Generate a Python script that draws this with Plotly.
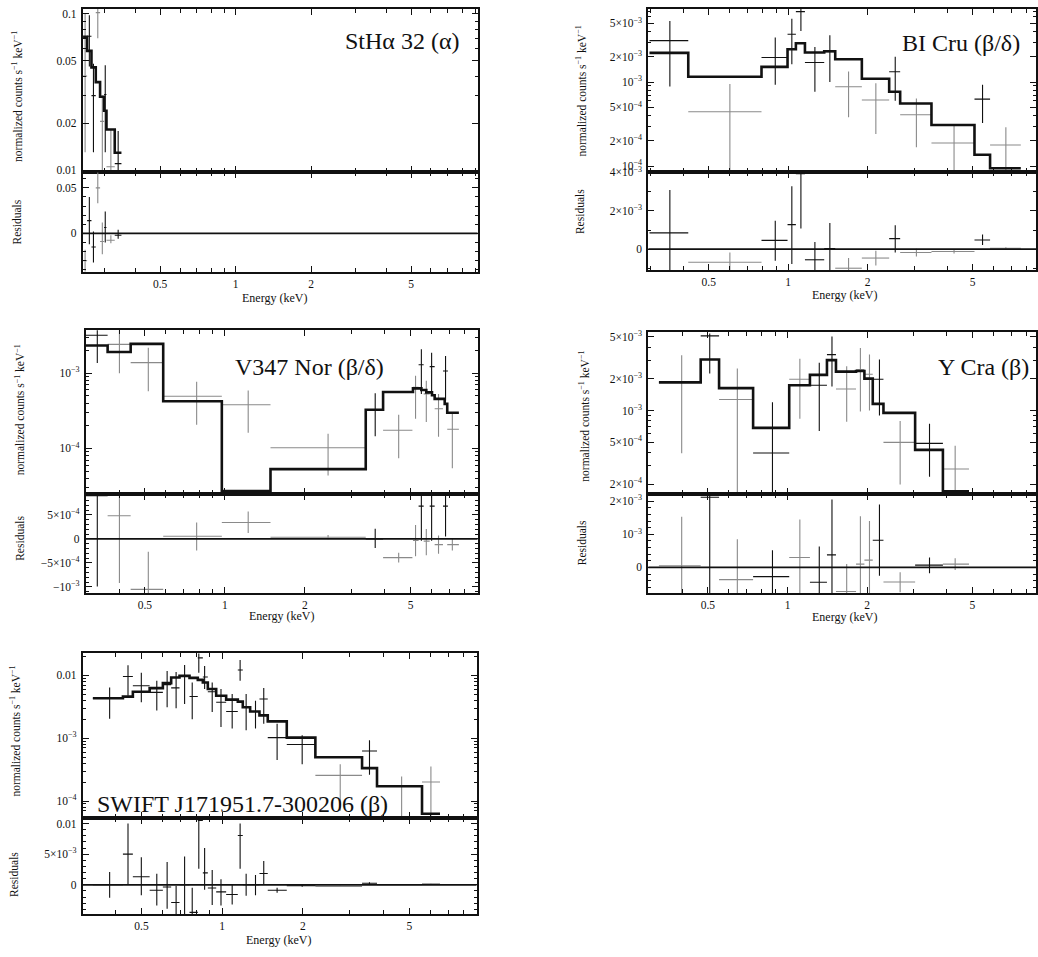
import plotly.graph_objects as go

W, H = 1038, 957
INK = "#111111"
GREY = "#8a8a8a"
SERIF = "Liberation Serif, Times New Roman, DejaVu Serif, serif"

# ===================== DATA =====================
# ---- Panel 1: StHa 32 (alpha) ----
p1_model_edges = [0.2464, 0.2557, 0.2661, 0.2768, 0.2880, 0.2988, 0.3054, 0.3295, 0.3504]
p1_model_vals = [0.0715, 0.058, 0.0455, 0.0366, 0.0295, 0.024, 0.0182, 0.0129]
p1_e = [0.251, 0.261, 0.271, 0.282, 0.294, 0.302, 0.318, 0.340]
p1_elo = [0.2464, 0.2557, 0.2661, 0.2768, 0.2880, 0.2988, 0.3054, 0.3295]
p1_ehi = [0.2557, 0.2661, 0.2768, 0.2880, 0.2988, 0.3054, 0.3295, 0.3504]
p1_f = [0.04, 0.072, 0.030, 0.102, 0.0205, 0.0305, 0.0105, 0.011]
p1_flo = [0.013, 0.046, 0.013, 0.07, 0.0099, 0.013, 0.0095, 0.0095]
p1_fhi = [0.1, 0.098, 0.048, 0.11, 0.030, 0.047, 0.0182, 0.0178]
p1_r = [-0.03, 0.014, -0.015, 0.05, -0.009, 0.0065, -0.0076, -0.002]
p1_rlo = [-0.042, -0.012, -0.032, 0.033, -0.023, -0.010, -0.011, -0.006]
p1_rhi = [-0.018, 0.040, 0.002, 0.067, 0.012, 0.024, -0.002, 0.004]
p1_grey = [1, 0, 0, 1, 1, 0, 1, 0]

# ---- Panel 2: BI Cru (beta/delta) ----
p2_model_edges = [0.298, 0.418, 0.792, 0.994, 1.069, 1.157, 1.369, 1.507, 1.901,
                  2.413, 2.656, 3.49, 5.08, 5.82, 7.61]
p2_model_vals = [2.23e-3, 1.157e-3, 1.52e-3, 2.46e-3, 2.90e-3, 2.25e-3, 2.33e-3,
                 1.87e-3, 1.095e-3, 7.68e-4, 5.58e-4, 3.09e-4, 1.37e-4, 9.46e-5]
p2_e = [0.356, 0.601, 0.893, 1.032, 1.117, 1.262, 1.438, 1.693, 2.148, 2.544, 3.06, 4.25, 5.45, 6.68]
p2_elo = p2_model_edges[:-1]
p2_ehi = p2_model_edges[1:]
p2_f = [3.12e-3, 4.44e-4, 1.96e-3, 3.71e-3, 6.9e-3, 1.71e-3, 2.3e-3, 8.8e-4, 6.12e-4,
        1.33e-3, 4.1e-4, 1.89e-4, 6.28e-4, 1.79e-4]
p2_flo = [8.9e-4, 5e-5, 9.3e-4, 1.63e-3, 4.06e-3, 7.7e-4, 1.0e-3, 3.81e-4, 2.41e-4,
          6.0e-4, 1.68e-4, 5e-5, 3.27e-4, 5e-5]
p2_fhi = [5.33e-3, 9.47e-4, 3.39e-3, 5.69e-3, 7.5e-3, 2.62e-3, 3.6e-3, 1.34e-3, 9.7e-4,
          2.01e-3, 6.4e-4, 3.03e-4, 9.3e-4, 2.9e-4]
p2_r = [8.5e-4, -6.8e-4, 4.6e-4, 1.28e-3, 3.93e-3, -5.5e-4, 3e-5, -9.9e-4, -4.6e-4,
        5.5e-4, -1.7e-4, -1.2e-4, 4.8e-4, 5e-5]
p2_rlo = [-1.5e-3, -1.5e-3, -6.0e-4, -7.7e-4, 1.08e-3, -1.5e-3, -1.5e-3, -1.5e-3, -8.5e-4,
          -1.7e-4, -3.8e-4, -2.2e-4, 2.2e-4, 0.0]
p2_rhi = [3.08e-3, -1.7e-4, 1.49e-3, 3.28e-3, 4.5e-3, 3.8e-4, 1.37e-3, -4.6e-4, -8.5e-5,
          1.25e-3, 3e-5, -2e-5, 7.7e-4, 1e-4]
p2_grey = [0, 1, 0, 0, 0, 0, 0, 1, 1, 0, 1, 1, 0, 1]

# ---- Panel 3: V347 Nor (beta/delta) ----
p3_model_edges = [0.300, 0.362, 0.442, 0.586, 0.974, 1.485, 3.39, 3.94, 5.105, 5.49,
                  5.73, 6.02, 6.16, 6.72, 6.87, 7.60]
p3_model_vals = [2.33e-3, 1.91e-3, 2.45e-3, 4.24e-4, 2.72e-5, 5.3e-5, 3.26e-4, 5.62e-4,
                 6.28e-4, 5.97e-4, 5.55e-4, 5.08e-4, 4.55e-4, 3.91e-4, 2.98e-4]
p3_e = [0.331, 0.401, 0.515, 0.783, 1.224, 2.446, 3.68, 4.51, 5.22, 5.49, 5.73, 6.0, 6.37, 6.77, 7.18]
p3_elo = [0.300, 0.362, 0.442, 0.586, 0.974, 1.485, 3.39, 3.94, 5.105, 5.36, 5.60, 5.90, 6.16, 6.62, 6.87]
p3_ehi = [0.362, 0.442, 0.586, 0.974, 1.485, 3.39, 3.94, 5.08, 5.36, 5.60, 5.90, 6.16, 6.62, 6.91, 7.60]
p3_f = [3.19e-3, 2.41e-3, 1.38e-3, 4.93e-4, 3.8e-4, 1.02e-4, 3.26e-4, 1.74e-4, 6.47e-4,
        1.29e-3, 5.3e-4, 1.22e-3, 3.36e-4, 1.07e-3, 1.8e-4]
p3_flo = [1.36e-3, 1.0e-3, 5.74e-4, 2.07e-4, 1.61e-4, 4.36e-5, 1.45e-4, 7.4e-5, 2.48e-4,
          5.3e-4, 2.24e-4, 5.3e-4, 1.43e-4, 4.32e-4, 5.46e-5]
p3_fhi = [3.8e-3, 3.8e-3, 2.18e-3, 7.7e-4, 5.86e-4, 1.57e-4, 5.4e-4, 2.8e-4, 9.2e-4,
          2.07e-3, 7.9e-4, 1.87e-3, 5.3e-4, 1.69e-3, 2.88e-4]
p3_r = [9.0e-4, 4.8e-4, -1.05e-3, 5.5e-5, 3.4e-4, 3.4e-5, 0.0, -3.9e-4, -3.4e-5,
        6.8e-4, -4.8e-5, 6.8e-4, -1.2e-4, 6.8e-4, -1.2e-4]
p3_rlo = [-9.9e-4, -9.2e-4, -1.2e-3, -2.4e-4, 1.2e-4, -1e-5, -1.9e-4, -4.9e-4, -3.6e-4,
          -4e-5, -3.4e-4, -4e-5, -3.1e-4, 5e-5, -2.4e-4]
p3_rhi = [1.0e-3, 8.9e-4, -2.7e-4, 3.4e-4, 5.7e-4, 8e-5, 2.1e-4, -2.9e-4, 2.9e-4,
          1.0e-3, 2.05e-4, 1.0e-3, 7e-5, 1.0e-3, 0.0]
p3_grey = [0, 1, 1, 1, 1, 1, 0, 1, 1, 0, 1, 0, 1, 0, 1]

# ---- Panel 4: Y Cra (beta) ----
p4_model_edges = [0.3265, 0.4696, 0.551, 0.741, 1.0146, 1.215, 1.409, 1.524, 1.815,
                  1.952, 2.099, 2.304, 3.035, 3.865, 4.85]
p4_model_vals = [1.85e-3, 3.05e-3, 1.63e-3, 6.83e-4, 1.74e-3, 2.18e-3, 3.01e-3, 2.34e-3,
                 2.37e-3, 2.01e-3, 1.155e-3, 9.5e-4, 4.22e-4, 1.71e-4]
p4_e = [0.398, 0.508, 0.646, 0.877, 1.113, 1.318, 1.472, 1.673, 1.885, 2.04, 2.225, 2.664, 3.44, 4.3]
p4_elo = p4_model_edges[:-1]
p4_ehi = p4_model_edges[1:]
p4_f = [1.85e-3, 5.12e-3, 1.27e-3, 3.95e-4, 1.98e-3, 1.74e-3, 3.4e-3, 1.6e-3, 2.45e-3,
        2.21e-3, 1.98e-3, 4.98e-4, 4.87e-4, 2.78e-4]
p4_flo = [3.92e-4, 2.25e-3, 1e-4, 1e-4, 8.35e-4, 6.4e-4, 1.69e-3, 7.8e-4, 9.8e-4,
          1e-3, 8.97e-4, 1.98e-4, 2.34e-4, 1e-4]
p4_fhi = [3.35e-3, 5.4e-3, 2.51e-3, 1.2e-3, 3.1e-3, 2.84e-3, 5.05e-3, 2.64e-3, 3.92e-3,
          3.4e-3, 3.05e-3, 7.94e-4, 7.5e-4, 4.63e-4]
p4_r = [5e-5, 2.12e-3, -3.7e-4, -2.8e-4, 3e-4, -4.5e-4, 3.8e-4, -7.3e-4, 1e-4,
        2.2e-4, 8.2e-4, -4.4e-4, 7e-5, 1e-4]
p4_rlo = [-1e-3, -1e-3, -1e-3, -1e-3, -1e-3, -1e-3, -1e-3, -1e-3, -1e-3,
          -1e-3, -2.5e-4, -7.5e-4, -1.8e-4, -8e-5]
p4_rhi = [1.53e-3, 2.3e-3, 8.5e-4, 5.2e-4, 1.45e-3, 6.3e-4, 2.05e-3, 1e-4, 1.55e-3,
          1.4e-3, 1.9e-3, -1.5e-4, 3e-4, 2.8e-4]
p4_grey = [1, 0, 1, 0, 1, 0, 0, 1, 1, 1, 0, 1, 0, 1]

# ---- Panel 5: SWIFT J171951.7-300206 (beta) ----
p5_model_edges = [0.329, 0.426, 0.464, 0.536, 0.6006, 0.645, 0.693, 0.7552, 0.811, 0.847,
                  0.884, 0.950, 1.035, 1.144, 1.194, 1.272, 1.378, 1.480, 1.743, 2.229,
                  3.33, 3.787, 5.577, 6.51]
p5_model_vals = [4.3e-3, 4.57e-3, 5.47e-3, 6.25e-3, 7.49e-3, 9.19e-3, 9.76e-3, 9.08e-3,
                 8.45e-3, 7.67e-3, 6.03e-3, 4.73e-3, 4.1e-3, 3.81e-3, 3.1e-3, 2.65e-3,
                 2.3e-3, 1.85e-3, 1.02e-3, 4.97e-4, 3.34e-4, 1.72e-4, 6.3e-5]
p5_e = [0.380, 0.445, 0.499, 0.57, 0.623, 0.673, 0.724, 0.773, 0.818, 0.86, 0.918, 0.99,
        1.09, 1.167, 1.229, 1.332, 1.43, 1.604, 1.99, 2.76, 3.55, 4.68, 6.02]
p5_elo = p5_model_edges[:-1]
p5_ehi = p5_model_edges[1:]
p5_f = [4.3e-3, 9.53e-3, 6.8e-3, 5.35e-3, 7.1e-3, 6.3e-3, 9.76e-3, 4.6e-3, 0.0189, 9.4e-3,
        5.47e-3, 3.72e-3, 2.65e-3, 0.01213, 3.1e-3, 2.65e-3, 4.2e-3, 1.02e-3, 7.94e-4,
        2.56e-4, 6.25e-4, 1.72e-4, 2.01e-4]
p5_flo = [2.04e-3, 4.73e-3, 3.72e-3, 2.75e-3, 3.1e-3, 3.0e-3, 3.5e-3, 1.99e-3, 0.011, 6.03e-3,
          2.6e-3, 1.51e-3, 1.42e-3, 8.15e-3, 1.34e-3, 1.42e-3, 1.7e-3, 4.5e-4, 3.86e-4,
          7e-5, 2.62e-4, 5e-5, 5e-5]
p5_fhi = [6.4e-3, 0.01436, 0.011, 8.15e-3, 0.0117, 0.0113, 0.0146, 7.67e-3, 0.023, 0.014,
          7.67e-3, 6.03e-3, 5.04e-3, 0.0174, 5.04e-3, 3.95e-3, 6.25e-3, 1.7e-3, 1.11e-3,
          3.86e-4, 9.3e-4, 2.47e-4, 3.55e-4]
p5_r = [0.0, 5e-3, 1.32e-3, -8.9e-4, -3.7e-4, -2.9e-3, 0.0, -4.5e-3, 0.0105, 1.95e-3,
        -5.3e-4, -1.16e-3, -1.58e-3, 8.05e-3, 0.0, 0.0, 1.84e-3, -8.9e-4, -1.6e-4,
        -2.6e-4, 2.6e-4, 0.0, 1.6e-4]
p5_rlo = [-2.1e-3, 0.0, -1.7e-3, -3.4e-3, -3.9e-3, -6e-3, -6e-3, -6e-3, 2.6e-3, -8e-4,
          -3.3e-3, -3.4e-3, -3.2e-3, 2.6e-3, -1.8e-3, -1.7e-3, 0.0, -1.3e-3, -3e-4,
          -3.5e-4, 1e-4, -5e-5, 1e-4]
p5_rhi = [2.1e-3, 0.01, 4.5e-3, 1.8e-3, 3.7e-3, -1.6e-4, 4.6e-3, -5e-4, 0.012, 6e-3,
          2.4e-3, 9e-4, 0.0, 0.01, 1.8e-3, 1.6e-3, 3.9e-3, -5e-4, 0.0,
          -1.5e-4, 4e-4, 5e-5, 2e-4]
p5_grey = [0] * 19 + [1, 0, 1, 1]

# ---- titles & tick labels ----
titles = ["StHα 32 (α)", "BI Cru (β/δ)", "V347 Nor (β/δ)", "Y Cra (β)",
          "SWIFT J171951.7-300206 (β)"]
x_tick_vals = [0.5, 1, 2, 5]
x_tick_text = ["0.5", "1", "2", "5"]
x_minor_vals = [0.3, 0.4, 0.6, 0.7, 0.8, 0.9, 3, 4, 6, 7, 8, 9]


def sci(m, k):
    s = "10<sup>−%d</sup>" % k
    return s if m == 1 else "%d×%s" % (m, s)


top_ticks = [
    ([0.01, 0.02, 0.05, 0.1], ["0.01", "0.02", "0.05", "0.1"],
     [0.03, 0.04, 0.06, 0.07, 0.08, 0.09]),
    ([1e-4, 2e-4, 5e-4, 1e-3, 2e-3, 5e-3],
     [sci(1, 4), sci(2, 4), sci(5, 4), sci(1, 3), sci(2, 3), sci(5, 3)],
     [3e-4, 4e-4, 6e-4, 7e-4, 8e-4, 9e-4, 3e-3, 4e-3, 6e-3, 7e-3]),
    ([1e-4, 1e-3], [sci(1, 4), sci(1, 3)],
     [3e-5, 4e-5, 5e-5, 6e-5, 7e-5, 8e-5, 9e-5, 2e-4, 3e-4, 4e-4, 5e-4, 6e-4, 7e-4,
      8e-4, 9e-4, 2e-3, 3e-3]),
    ([2e-4, 5e-4, 1e-3, 2e-3, 5e-3], [sci(2, 4), sci(5, 4), sci(1, 3), sci(2, 3), sci(5, 3)],
     [3e-4, 4e-4, 6e-4, 7e-4, 8e-4, 9e-4, 3e-3, 4e-3]),
    ([1e-4, 1e-3, 1e-2], [sci(1, 4), sci(1, 3), "0.01"],
     [7e-5, 8e-5, 9e-5, 2e-4, 3e-4, 4e-4, 5e-4, 6e-4, 7e-4, 8e-4, 9e-4,
      2e-3, 3e-3, 4e-3, 5e-3, 6e-3, 7e-3, 8e-3, 9e-3, 0.02]),
]
res_ticks = [
    ([0, 0.05], ["0", "0.05"], 0.01),
    ([0, 2e-3, 4e-3], ["0", sci(2, 3), sci(4, 3)], 1e-3),
    ([-1e-3, -5e-4, 0, 5e-4], ["−10<sup>−3</sup>", "−" + sci(5, 4), "0", sci(5, 4)], 1e-4),
    ([0, 1e-3, 2e-3], ["0", sci(1, 3), sci(2, 3)], 2e-4),
    ([0, 5e-3, 0.01], ["0", sci(5, 3), "0.01"], 1e-3),
]

# ===================== LAYOUT GEOMETRY (pixels) =====================
frames = [  # x0, x1, top_y0, split_y, bottom_y1
    (83, 478, 2, 167, 268),
    (649, 1037, 2, 167, 266),
    (86, 478, 327, 493, 593),
    (649, 1037, 329, 493, 593),
    (83, 477, 654, 820, 918),
]
x_ranges = [(-0.609, 0.964), (-0.530, 0.939), (-0.523, 0.951), (-0.526, 0.939), (-0.520, 0.950)]
top_ranges = [(-2.013, -0.968), (-4.07, -2.13), (-4.61, -2.43), (-3.797, -2.256), (-4.262, -1.654)]
res_ranges = [(-0.0424, 0.0674), (-1.08e-3, 4.02e-3), (-1.13e-3, 9.26e-4),
              (-0.78e-3, 2.21e-3), (-4.84e-3, 0.01097)]
title_pos = [(461, 34, "right"), (1023, 36, "right"), (233, 364, "left"),
             (1032, 364, "right"), (95, 806, "left")]
ytitle_pos = [(17, 90, 17, 217), (582, 85, 580, 207), (20, 407, 20, 537),
              (585, 414, 582, 542), (15, 732, 14, 877)]
etitle_pos = [(275, 294), (845, 291), (282, 616), (845, 617), (279, 944)]

panels = [
    (p1_model_edges, p1_model_vals, p1_e, p1_elo, p1_ehi, p1_f, p1_flo, p1_fhi, p1_r, p1_rlo, p1_rhi, p1_grey),
    (p2_model_edges, p2_model_vals, p2_e, p2_elo, p2_ehi, p2_f, p2_flo, p2_fhi, p2_r, p2_rlo, p2_rhi, p2_grey),
    (p3_model_edges, p3_model_vals, p3_e, p3_elo, p3_ehi, p3_f, p3_flo, p3_fhi, p3_r, p3_rlo, p3_rhi, p3_grey),
    (p4_model_edges, p4_model_vals, p4_e, p4_elo, p4_ehi, p4_f, p4_flo, p4_fhi, p4_r, p4_rlo, p4_rhi, p4_grey),
    (p5_model_edges, p5_model_vals, p5_e, p5_elo, p5_ehi, p5_f, p5_flo, p5_fhi, p5_r, p5_rlo, p5_rhi, p5_grey),
]


def ax_id(n):
    return "" if n == 1 else str(n)


fig = go.Figure()
layout = dict(width=W, height=H, margin=dict(l=0, r=0, t=0, b=0),
              paper_bgcolor="white", plot_bgcolor="white", showlegend=False,
              font=dict(family=SERIF, color=INK))
annotations = []
shapes = []
tickfont = dict(family=SERIF, size=11.5, color=INK)


def errtrace(xs, lo, hi, ys, ylo, yhi, color, xa, ya):
    return go.Scatter(
        x=xs, y=ys, mode="markers",
        marker=dict(size=1, color="rgba(0,0,0,0)"),
        error_x=dict(type="data", symmetric=False,
                     array=[h - v for h, v in zip(hi, xs)],
                     arrayminus=[v - l for v, l in zip(xs, lo)],
                     width=0, thickness=1.1, color=color),
        error_y=dict(type="data", symmetric=False,
                     array=[h - v for h, v in zip(yhi, ys)],
                     arrayminus=[v - l for v, l in zip(ys, ylo)],
                     width=0, thickness=1.1, color=color),
        xaxis=xa, yaxis=ya, hoverinfo="skip", cliponaxis=True)


for i, p in enumerate(panels):
    edges, mvals, e, elo, ehi, f, flo, fhi, r, rlo, rhi, grey = p
    nt, nr = 2 * i + 1, 2 * i + 2
    xt, yt = "x" + ax_id(nt), "y" + ax_id(nt)
    xr, yr = "x" + ax_id(nr), "y" + ax_id(nr)
    x0, x1, ty0, sy, by1 = frames[i]

    for flag, col in ((1, GREY), (0, INK)):
        idx = [k for k in range(len(e)) if grey[k] == flag]
        if not idx:
            continue
        sel = lambda arr: [arr[k] for k in idx]
        fig.add_trace(errtrace(sel(e), sel(elo), sel(ehi), sel(f), sel(flo), sel(fhi), col, xt, yt))
        fig.add_trace(errtrace(sel(e), sel(elo), sel(ehi), sel(r), sel(rlo), sel(rhi), col, xr, yr))

    fig.add_trace(go.Scatter(x=edges, y=list(mvals) + [mvals[-1]], mode="lines",
                             line=dict(color=INK, width=2.6, shape="hv"),
                             xaxis=xt, yaxis=yt, hoverinfo="skip"))

    common_x = dict(type="log", range=list(x_ranges[i]), showline=True, linecolor=INK,
                    linewidth=2, mirror="ticks", ticks="inside", ticklen=6, tickwidth=1.3,
                    tickcolor=INK, tickvals=x_tick_vals, ticktext=x_tick_text,
                    tickfont=tickfont, showgrid=False, zeroline=False,
                    minor=dict(tickvals=x_minor_vals, ticks="inside", ticklen=4,
                               tickcolor=INK, tickwidth=1.1, showgrid=False),
                    domain=[x0 / W, x1 / W])
    layout["xaxis" + ax_id(nt)] = dict(common_x, anchor=yt, showticklabels=False)
    layout["xaxis" + ax_id(nr)] = dict(common_x, anchor=yr, showticklabels=True,
                                       ticklabelstandoff=0)

    tv, tt, tm = top_ticks[i]
    layout["yaxis" + ax_id(nt)] = dict(
        type="log", range=list(top_ranges[i]), domain=[1 - sy / H, 1 - ty0 / H], anchor=xt,
        showline=True, linecolor=INK, linewidth=2, mirror="ticks", ticks="inside",
        ticklen=6, tickwidth=1.3, tickcolor=INK, tickvals=tv, ticktext=tt, tickfont=tickfont,
        showgrid=False, zeroline=False, ticklabelstandoff=2,
        minor=dict(tickvals=tm, ticks="inside", ticklen=3, tickcolor=INK, tickwidth=1.1,
                   showgrid=False))
    rv, rt, rd = res_ticks[i]
    layout["yaxis" + ax_id(nr)] = dict(
        type="linear", range=list(res_ranges[i]), domain=[1 - by1 / H, 1 - sy / H], anchor=xr,
        showline=True, linecolor=INK, linewidth=2, mirror="ticks", ticks="inside",
        ticklen=6, tickwidth=1.3, tickcolor=INK, tickvals=rv, ticktext=rt, tickfont=tickfont,
        showgrid=False, zeroline=False, ticklabelstandoff=2,
        minor=dict(tickmode="linear", tick0=0, dtick=rd, ticks="inside", ticklen=3,
                   tickcolor=INK, tickwidth=1.1, showgrid=False))

    shapes.append(dict(type="line", xref=xr + " domain", x0=0, x1=1, yref=yr, y0=0, y1=0,
                       line=dict(color=INK, width=1.8), layer="above"))

    tx, ty, anc = title_pos[i]
    annotations.append(dict(text=titles[i], x=tx / W, y=1 - ty / H, xref="paper", yref="paper",
                            xanchor=anc, yanchor="middle", showarrow=False,
                            font=dict(family=SERIF, size=24, color=INK)))
    a, b, c, d = ytitle_pos[i]
    annotations.append(dict(text="normalized counts s<sup>−1</sup> keV<sup>−1</sup>",
                            x=a / W, y=1 - b / H, xref="paper", yref="paper",
                            xanchor="center", yanchor="middle", textangle=-90, showarrow=False,
                            font=dict(family=SERIF, size=11.5, color=INK)))
    annotations.append(dict(text="Residuals", x=c / W, y=1 - d / H, xref="paper", yref="paper",
                            xanchor="center", yanchor="middle", textangle=-90, showarrow=False,
                            font=dict(family=SERIF, size=11.5, color=INK)))
    ex, ey = etitle_pos[i]
    annotations.append(dict(text="Energy (keV)", x=ex / W, y=1 - ey / H, xref="paper",
                            yref="paper", xanchor="center", yanchor="middle", showarrow=False,
                            font=dict(family=SERIF, size=12, color=INK)))

layout["annotations"] = annotations
layout["shapes"] = shapes
fig.update_layout(**layout)
fig.write_html("out.html")
